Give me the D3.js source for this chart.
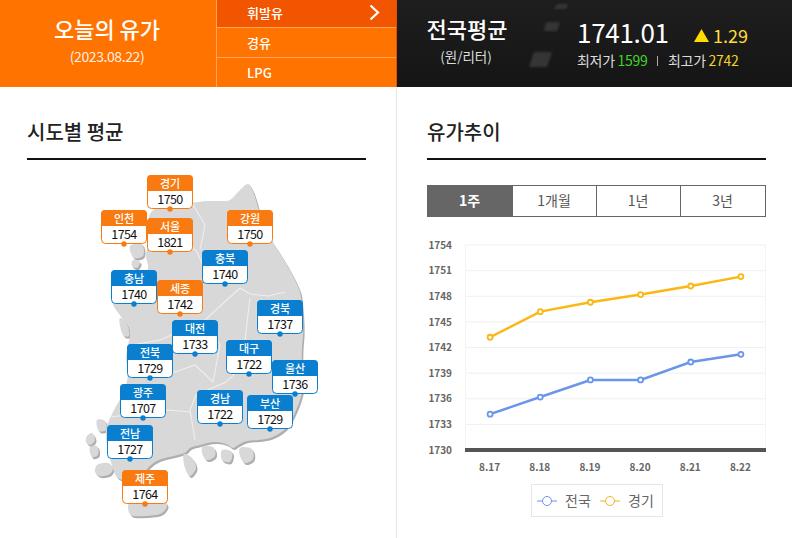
<!DOCTYPE html>
<html>
<head>
<meta charset="utf-8">
<script src="https://cdn.jsdelivr.net/npm/d3@7"></script>
<style>
html, body { margin: 0; padding: 0; background: #fff; overflow: hidden; }
svg { display: block; }
text { font-family: "Noto Sans CJK KR", "Noto Sans", sans-serif; }
</style>
</head>
<body>
<div id="chart"></div>
<script>
// Data
const days = ['8.17', '8.18', '8.19', '8.20', '8.21', '8.22'];
const nationalPrices = [1734.2, 1736.2, 1738.2, 1738.2, 1740.3, 1741.2];
const gyeonggiPrices = [1743.2, 1746.2, 1747.3, 1748.2, 1749.2, 1750.3];
const yTicks = [1730, 1733, 1736, 1739, 1742, 1745, 1748, 1751, 1754];
const seriesNames = ['전국', '경기'];
const fuelTypes = ['휘발유', '경유', 'LPG'];
const periods = ['1주', '1개월', '1년', '3년'];

const regionNames = ['경기', '인천', '서울', '강원', '충북', '충남', '세종', '경북', '대전', '대구', '전북', '울산', '광주', '경남', '부산', '전남', '제주'];
const regionPrices = [1750, 1754, 1821, 1750, 1740, 1740, 1742, 1737, 1733, 1722, 1729, 1736, 1707, 1722, 1729, 1727, 1764];

// where each badge pin sits on the map
const regionPins = [[170, 209], [124, 244], [170, 252], [250, 244], [225, 284], [134, 304], [180, 314], [280, 334], [195, 354], [249, 374], [150, 378], [295, 394], [143, 418], [220, 424], [270, 429], [130, 459], [145, 504]];

// map outline, traced by hand
const mainland = [[150, 214], [165, 205], [190, 203], [207, 201], [222, 201], [230, 200], [238, 192], [248, 184], [252, 189], [255, 197], [262, 220], [270, 238], [279, 252], [287, 265], [295, 280], [300, 292], [302, 307], [303, 322], [303, 335], [302, 348], [302, 365], [304, 382], [300, 400], [293, 417], [287, 427], [280, 433], [270, 438], [258, 440], [247, 441], [238, 445], [233, 448], [226, 444], [215, 442], [200, 445], [190, 448], [186, 452], [178, 455], [165, 458], [155, 462], [148, 468], [142, 476], [130, 480], [118, 478], [112, 465], [108, 450], [106, 430], [113, 412], [122, 395], [128, 375], [126, 358], [128, 345], [130, 330], [118, 312], [113, 303], [128, 292], [140, 282], [148, 268], [146, 256], [149, 238]];
const islands = [[[145, 493], [160, 498], [167, 505], [162, 513], [145, 516], [131, 515], [128, 507], [132, 497]], [[97, 465], [108, 463], [113, 468], [110, 474], [100, 476], [95, 472]], [[87, 436], [92, 433], [95, 440], [90, 445], [86, 442]], [[90, 447], [97, 446], [98, 455], [92, 457]], [[97, 420], [105, 421], [106, 430], [99, 431]], [[184, 454], [192, 458], [196, 468], [190, 476], [185, 468]], [[203, 446], [214, 448], [215, 456], [207, 460], [202, 453]], [[240, 448], [252, 449], [253, 459], [245, 463], [240, 456]], [[222, 450], [232, 452], [230, 462], [222, 460]], [[130, 246], [142, 244], [143, 256], [134, 258]], [[133, 260], [140, 262], [137, 268], [132, 266]], [[120, 318], [126, 322], [129, 336], [124, 336], [120, 326]]];
const borders = [[[150, 232], [175, 244], [196, 250], [205, 270], [220, 262]], [[192, 203], [205, 225], [200, 250]], [[132, 345], [160, 340], [205, 320], [240, 288], [250, 294], [268, 296], [285, 292]], [[205, 320], [220, 345], [213, 382], [195, 365], [175, 372], [160, 368]], [[250, 298], [245, 340], [252, 358], [226, 382], [196, 395], [190, 410], [195, 440]], [[112, 417], [145, 412], [168, 410], [190, 412]], [[252, 395], [256, 415], [268, 420]]];
const oilMarks = [[[558, 4], [568, 4], [566, 9], [553, 9]], [[546, 22], [560, 22], [557, 31], [544, 31]], [[534, 52], [552, 52], [547, 67], [529, 67]]];

const width = 792;
const height = 538;
const orange = '#ff7300';
const blue = '#0a7fd0';
const badgeOrange = '#f97a10';

const svg = d3.select('#chart').append('svg')
    .attr('width', width)
    .attr('height', height);

// Header
svg.append('rect').attr('width', 217).attr('height', 87).attr('fill', orange);
svg.append('rect').attr('x', 217).attr('width', 179).attr('height', 87).attr('fill', orange);
svg.append('rect').attr('x', 217).attr('width', 179).attr('height', 27).attr('fill', '#f25500');
svg.append('line').attr('x1', 216.5).attr('x2', 216.5).attr('y1', 0).attr('y2', 87).attr('stroke', '#ffa45c');
[27.5, 57.5].forEach(y => {
    svg.append('line').attr('x1', 217).attr('x2', 396).attr('y1', y).attr('y2', y).attr('stroke', '#ffa45c');
});

svg.append('text').attr('x', 107).attr('y', 38).attr('text-anchor', 'middle')
    .attr('fill', '#fff').attr('font-size', 22).attr('font-weight', 500).text('오늘의 유가');
svg.append('text').attr('x', 107).attr('y', 62).attr('text-anchor', 'middle')
    .attr('fill', '#fff').attr('fill-opacity', 0.9).attr('font-size', 14).attr('letter-spacing', -0.4).text('(2023.08.22)');

fuelTypes.forEach((name, i) => {
    svg.append('text').attr('x', 247).attr('y', 17.5 + i * 30)
        .attr('fill', '#fff').attr('font-size', 13).attr('font-weight', 500).text(name);
});
svg.append('path').attr('d', 'M370.5,5.5L378,12.5L370.5,19.5').attr('fill', 'none')
    .attr('stroke', '#fff').attr('stroke-width', 2.2);

// Black panel
const defs = svg.append('defs');
const panelGrad = defs.append('linearGradient').attr('id', 'panel').attr('x1', 0).attr('x2', 0).attr('y1', 0).attr('y2', 1);
panelGrad.append('stop').attr('offset', 0).attr('stop-color', '#1e1e1e');
panelGrad.append('stop').attr('offset', 1).attr('stop-color', '#151515');
defs.append('filter').attr('id', 'soft').append('feGaussianBlur').attr('stdDeviation', 1);
svg.append('rect').attr('x', 396).attr('width', 396).attr('height', 87).attr('fill', 'url(#panel)');
svg.append('rect').attr('x', 396).attr('width', 1).attr('height', 87).attr('fill', '#e2500a');
svg.selectAll('.oil-mark').data(oilMarks).enter().append('polygon')
    .attr('class', 'oil-mark')
    .attr('points', d => d.join(' '))
    .attr('fill', '#363636')
    .attr('filter', 'url(#soft)');

svg.append('text').attr('x', 467).attr('y', 38).attr('text-anchor', 'middle')
    .attr('fill', '#fff').attr('font-size', 22).attr('font-weight', 500).text('전국평균');
svg.append('text').attr('x', 466).attr('y', 62).attr('text-anchor', 'middle')
    .attr('fill', '#ddd').attr('font-size', 13.5).text('(원/리터)');
svg.append('text').attr('x', 577).attr('y', 43).attr('fill', '#fff')
    .attr('font-size', 26).attr('letter-spacing', -0.3).text('1741.01');
svg.append('path').attr('d', 'M694,42L701.5,29L709,42Z').attr('fill', '#ffdc00');
svg.append('text').attr('x', 713).attr('y', 43).attr('fill', '#ffdc3c').attr('font-size', 18).text('1.29');

const low = svg.append('text').attr('x', 577).attr('y', 66).attr('font-size', 14).attr('fill', '#ddd');
low.append('tspan').attr('letter-spacing', -0.3).text('최저가 ');
low.append('tspan').attr('fill', '#3fd42a').attr('letter-spacing', -0.3).text('1599');
svg.append('line').attr('x1', 657.5).attr('x2', 657.5).attr('y1', 56).attr('y2', 66).attr('stroke', '#aaa');
const high = svg.append('text').attr('x', 668).attr('y', 66).attr('font-size', 14).attr('fill', '#ddd');
high.append('tspan').attr('letter-spacing', -0.3).text('최고가 ');
high.append('tspan').attr('fill', '#f3d12a').attr('letter-spacing', -0.3).text('2742');

// Section titles
svg.append('line').attr('x1', 396.5).attr('x2', 396.5).attr('y1', 87).attr('y2', height).attr('stroke', '#e6e6e6');
[['시도별 평균', 27, 366], ['유가추이', 427, 766]].forEach(([title, x1, x2]) => {
    svg.append('text').attr('x', x1).attr('y', 140).attr('fill', '#222')
        .attr('font-size', 20).attr('font-weight', 500).text(title);
    svg.append('rect').attr('x', x1).attr('y', 158).attr('width', x2 - x1).attr('height', 2).attr('fill', '#111');
});

// Map
const mapLine = d3.line().curve(d3.curveCatmullRomClosed.alpha(0.5));
const borderLine = d3.line().curve(d3.curveLinear);
const landShapes = [mainland].concat(islands);
svg.append('g').attr('transform', 'translate(1.5,2)')
    .selectAll('path').data(landShapes).enter().append('path')
    .attr('d', d => mapLine(d)).attr('fill', '#aeaeae');
svg.append('g').selectAll('path').data(landShapes).enter().append('path')
    .attr('d', d => mapLine(d)).attr('fill', '#d8d8d8');
svg.append('g').selectAll('path').data(borders).enter().append('path')
    .attr('d', d => borderLine(d)).attr('fill', 'none').attr('stroke', '#efefef').attr('stroke-width', 1.1);

// Region badges
const cheap = name => regionPrices[regionNames.indexOf(name)] < 1741.01;
const badges = svg.append('g').selectAll('g').data(regionNames).enter().append('g')
    .attr('transform', (d, i) => `translate(${regionPins[i][0]},${regionPins[i][1]})`);
badges.append('rect').attr('x', -22.5).attr('y', -33.5).attr('width', 45).attr('height', 33).attr('rx', 4)
    .attr('fill', '#fff').attr('stroke', d => cheap(d) ? blue : badgeOrange).attr('stroke-width', 1);
badges.append('path').attr('d', 'M-23,-18V-30a4,4 0 0 1 4,-4H19a4,4 0 0 1 4,4V-18Z')
    .attr('fill', d => cheap(d) ? blue : badgeOrange);
badges.append('text').attr('y', -21.5).attr('text-anchor', 'middle').attr('fill', '#fff')
    .attr('font-size', 11).attr('font-weight', 500).text(d => d);
badges.append('text').attr('y', -5.5).attr('text-anchor', 'middle').attr('fill', '#111')
    .attr('font-size', 12.5).attr('letter-spacing', -0.6).text((d, i) => regionPrices[i]);
badges.append('circle').attr('r', 2.7).attr('fill', d => cheap(d) ? blue : badgeOrange);

// Period tabs
const tabX = d3.scaleOrdinal().domain(periods).range([427, 512, 596, 680]);
const tabW = d3.scaleOrdinal().domain(periods).range([85, 84, 84, 85]);
const tabs = svg.append('g').selectAll('g').data(periods).enter().append('g');
tabs.append('rect')
    .attr('x', d => tabX(d) + 0.5).attr('y', 185.5).attr('width', d => tabW(d)).attr('height', 31)
    .attr('fill', (d, i) => i === 0 ? '#666' : '#fff').attr('stroke', '#666');
tabs.append('text')
    .attr('x', d => tabX(d) + tabW(d) / 2).attr('y', 206).attr('text-anchor', 'middle')
    .attr('font-size', 14).attr('font-weight', (d, i) => i === 0 ? 700 : 400)
    .attr('fill', (d, i) => i === 0 ? '#fff' : '#555').text(d => d);

// Line chart
const plot = { left: 465, right: 766, top: 245, bottom: 450 };
const xScale = d3.scalePoint().domain(days).range([plot.left, plot.right]).padding(0.5);
const yScale = d3.scaleLinear().domain([1730, 1754]).range([plot.bottom, plot.top]);

svg.append('g').selectAll('line').data(yTicks).enter().append('line')
    .attr('x1', plot.left).attr('x2', plot.right)
    .attr('y1', d => yScale(d)).attr('y2', d => yScale(d))
    .attr('stroke', '#f0f0f0');
svg.append('line').attr('x1', plot.left + 0.5).attr('x2', plot.left + 0.5)
    .attr('y1', plot.top).attr('y2', plot.bottom).attr('stroke', '#f4f4f4');
svg.append('line').attr('x1', plot.right - 0.5).attr('x2', plot.right - 0.5)
    .attr('y1', plot.top).attr('y2', plot.bottom).attr('stroke', '#f4f4f4');

const yAxis = d3.axisLeft(yScale).tickValues(yTicks).tickSize(0).tickPadding(0).tickFormat(d3.format('d'));
const yAxisG = svg.append('g').attr('transform', 'translate(452,0)').call(yAxis);
yAxisG.select('.domain').remove();
yAxisG.selectAll('text').attr('font-size', 10).attr('font-weight', 700).attr('fill', '#666')
    .attr('font-family', '"Noto Sans CJK KR", sans-serif');

const xAxis = d3.axisBottom(xScale).tickSize(0).tickPadding(0);
const xAxisG = svg.append('g').attr('transform', 'translate(-1,464)').call(xAxis);
xAxisG.select('.domain').remove();
xAxisG.selectAll('text').attr('font-size', 10).attr('font-weight', 700).attr('fill', '#666')
    .attr('font-family', '"Noto Sans CJK KR", sans-serif');

svg.append('rect').attr('x', plot.left).attr('y', plot.bottom - 2).attr('width', plot.right - plot.left).attr('height', 4).attr('fill', '#555');

const line = d3.line()
    .x((d, i) => xScale(days[i]))
    .y(d => yScale(d));

[[nationalPrices, '#6a96ea'], [gyeonggiPrices, '#fbb713']].forEach(([values, color]) => {
    svg.append('path').datum(values)
        .attr('d', line).attr('fill', 'none').attr('stroke', color).attr('stroke-width', 2.5);
    svg.append('g').selectAll('circle').data(values).enter().append('circle')
        .attr('cx', (d, i) => xScale(days[i]))
        .attr('cy', d => yScale(d))
        .attr('r', 2.5).attr('fill', '#fff').attr('stroke', color).attr('stroke-width', 1.8);
});

// Legend
svg.append('rect').attr('x', 531.5).attr('y', 484.5).attr('width', 131).attr('height', 32)
    .attr('fill', '#fff').attr('stroke', '#e6e6e6');
const legendColors = ['#6a96ea', '#eeb52a'];
const legendX = [537, 600];
seriesNames.forEach((name, i) => {
    const x = legendX[i];
    svg.append('line').attr('x1', x).attr('x2', x + 20).attr('y1', 501).attr('y2', 501)
        .attr('stroke', legendColors[i]);
    svg.append('circle').attr('cx', x + 10).attr('cy', 501).attr('r', 4.5)
        .attr('fill', '#fff').attr('stroke', legendColors[i]);
    svg.append('text').attr('x', x + 28).attr('y', 506).attr('font-size', 14)
        .attr('fill', '#666').text(name);
});
</script>
</body>
</html>
